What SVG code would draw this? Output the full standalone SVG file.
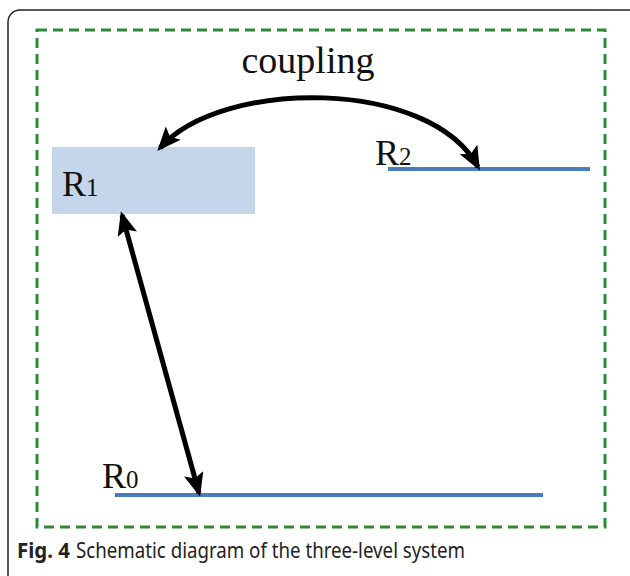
<svg xmlns="http://www.w3.org/2000/svg" width="630" height="576" viewBox="0 0 630 576">
  <defs>
    <marker id="head" markerUnits="userSpaceOnUse" markerWidth="26" markerHeight="22" refX="20" refY="10" orient="auto-start-reverse">
      <path d="M0,0 L24,10 L0,20 L5,10 z" fill="#000"/>
    </marker>
    <style>
      .level { stroke: #4a7dbd; stroke-width: 4; }
      .lbl { font-family: "Liberation Serif", "Times New Roman", serif; fill: #111; }
      .arrow { fill: none; stroke: #000; stroke-width: 5; marker-start: url(#head); marker-end: url(#head); }
      .cap { font-family: "Noto Sans", "Open Sans", sans-serif; font-size: 22px; fill: #222; }
    </style>
  </defs>

  <!-- panel frame -->
  <rect x="8" y="10" width="640" height="590" rx="12" fill="#fff" stroke="#222" stroke-width="1.5"/>
  <!-- dashed boundary -->
  <rect x="37" y="30" width="568" height="497" fill="none" stroke="#2a8a36" stroke-width="3" stroke-dasharray="10 6"/>

  <!-- levels -->
  <g id="R1">
    <rect x="52" y="147" width="203" height="67" fill="#c5d6eb"/>
    <text class="lbl" x="62" y="196" font-size="36">R<tspan font-size="25">1</tspan></text>
  </g>
  <g id="R2">
    <line class="level" x1="388" y1="169" x2="590" y2="169"/>
    <text class="lbl" x="375" y="165" font-size="36">R<tspan font-size="25">2</tspan></text>
  </g>
  <g id="R0">
    <line class="level" x1="115" y1="495" x2="543" y2="495"/>
    <text class="lbl" x="102" y="488" font-size="36">R<tspan font-size="25">0</tspan></text>
  </g>

  <!-- transitions -->
  <g id="connectors">
    <path class="arrow" d="M478,167 C430,78 222,78 160,148"/>
    <line class="arrow" x1="122" y1="215" x2="199" y2="493"/>
    <text class="lbl" x="308" y="73" font-size="38" text-anchor="middle">coupling</text>
  </g>

  <!-- caption -->
  <text class="cap" x="17" y="558" font-weight="bold" textLength="53" lengthAdjust="spacingAndGlyphs">Fig. 4</text>
  <text class="cap" x="76" y="558" textLength="389" lengthAdjust="spacingAndGlyphs">Schematic diagram of the three-level system</text>
</svg>
